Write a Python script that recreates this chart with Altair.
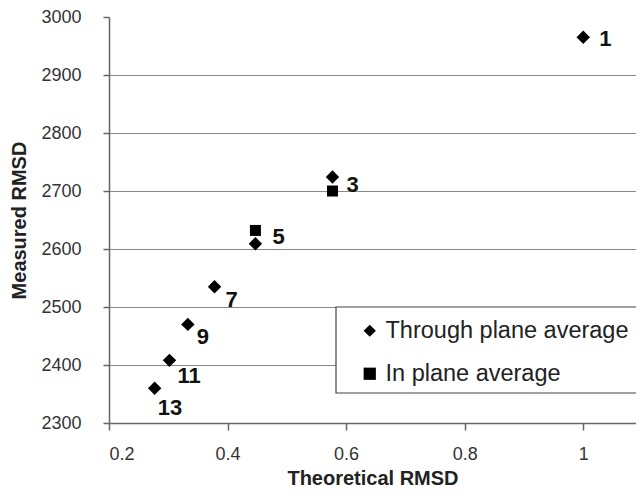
import altair as alt
import pandas as pd

# ---- data ----
labels = ["1", "3", "5", "7", "9", "11", "13"]
theoretical = [1.0, 0.577, 0.447, 0.378, 0.333, 0.302, 0.277]
through_plane = [2965, 2724, 2609, 2535, 2470, 2408, 2360]
in_plane_labels = ["3", "5"]
in_plane_theoretical = [0.577, 0.447]
in_plane = [2700, 2632]

series_names = ["Through plane average", "In plane average"]
x_ticks = [0.2, 0.4, 0.6, 0.8, 1.0]
y_ticks = [2300, 2400, 2500, 2600, 2700, 2800, 2900, 3000]

# label offsets (styling, px) for each numbered label
label_offsets = {
    "1": (16, 2), "3": (14, 8), "5": (17, -7), "7": (11, 13),
    "9": (9, 13), "11": (8, 16), "13": (3, 20),
}

rows = []
for lab, x, y in zip(labels, theoretical, through_plane):
    rows.append({"label": lab, "x": x, "y": y, "series": series_names[0]})
for lab, x, y in zip(in_plane_labels, in_plane_theoretical, in_plane):
    rows.append({"label": lab, "x": x, "y": y, "series": series_names[1]})
df = pd.DataFrame(rows)
df_lab = df[df.series == series_names[0]]

FONT = "Liberation Sans"

xscale = alt.Scale(domain=[0.2, 1.089], nice=False, zero=False)
yscale = alt.Scale(domain=[2300, 3000], nice=False, zero=False)

x_enc = alt.X("x:Q", scale=xscale, title="Theoretical RMSD",
              axis=alt.Axis(values=x_ticks, format="~g", grid=False,
                            tickSize=7, labelPadding=15, titlePadding=5))
y_enc = alt.Y("y:Q", scale=yscale, title="Measured RMSD",
              axis=alt.Axis(values=y_ticks, format="d", grid=True, tickSize=6,
                            labelPadding=22, titlePadding=11,
                            gridOpacity=alt.condition("datum.value >= 3000",
                                                      alt.value(0), alt.value(1))))

legend_box = alt.Chart(pd.DataFrame({"a": [0]})).mark_rect(
    fill="white", stroke="#444", strokeWidth=1.2
).encode(x=alt.value(227), x2=alt.value(560), y=alt.value(290), y2=alt.value(376))

points = alt.Chart(df).mark_point(filled=True, color="black", opacity=1).encode(
    x=x_enc,
    y=y_enc,
    shape=alt.Shape("series:N",
                    scale=alt.Scale(domain=series_names, range=["diamond", "square"]),
                    legend=alt.Legend(title=None, orient="none", legendX=249, legendY=302,
                                      symbolSize=150, labelFontSize=23.5, labelFont=FONT,
                                      labelColor="#222", rowPadding=18, labelOffset=4,
                                      labelLimit=500,
                                      symbolFillColor="black", symbolStrokeWidth=0,
                                      padding=0)),
    size=alt.condition(alt.datum.series == series_names[0], alt.value(180), alt.value(121)),
)

text_layers = []
for lab in labels:
    dx, dy = label_offsets[lab]
    t = alt.Chart(df_lab).transform_filter(alt.datum.label == lab).mark_text(
        align="left", baseline="middle", dx=dx, dy=dy,
        font=FONT, fontSize=22, fontWeight="bold", color="#111"
    ).encode(x=alt.X("x:Q", scale=xscale), y=alt.Y("y:Q", scale=yscale), text="label:N")
    text_layers.append(t)

chart = alt.layer(legend_box, points, *text_layers).properties(
    width=527, height=406,
    autosize=alt.AutoSizeParams(type="none"),
    padding={"left": 101, "top": 9, "right": 0, "bottom": 67},
    background="white",
).configure_view(stroke=None).configure_axis(
    labelFont=FONT, labelFontSize=18, labelColor="#333",
    titleFont=FONT, titleFontSize=20, titleFontWeight="bold", titleColor="#222",
    domainColor="#666", domainWidth=1.5, tickColor="#666", tickWidth=1.5,
    gridColor="#888", gridWidth=1.2,
)

chart.save("out.html", embed_options={"renderer": "svg", "actions": False})
